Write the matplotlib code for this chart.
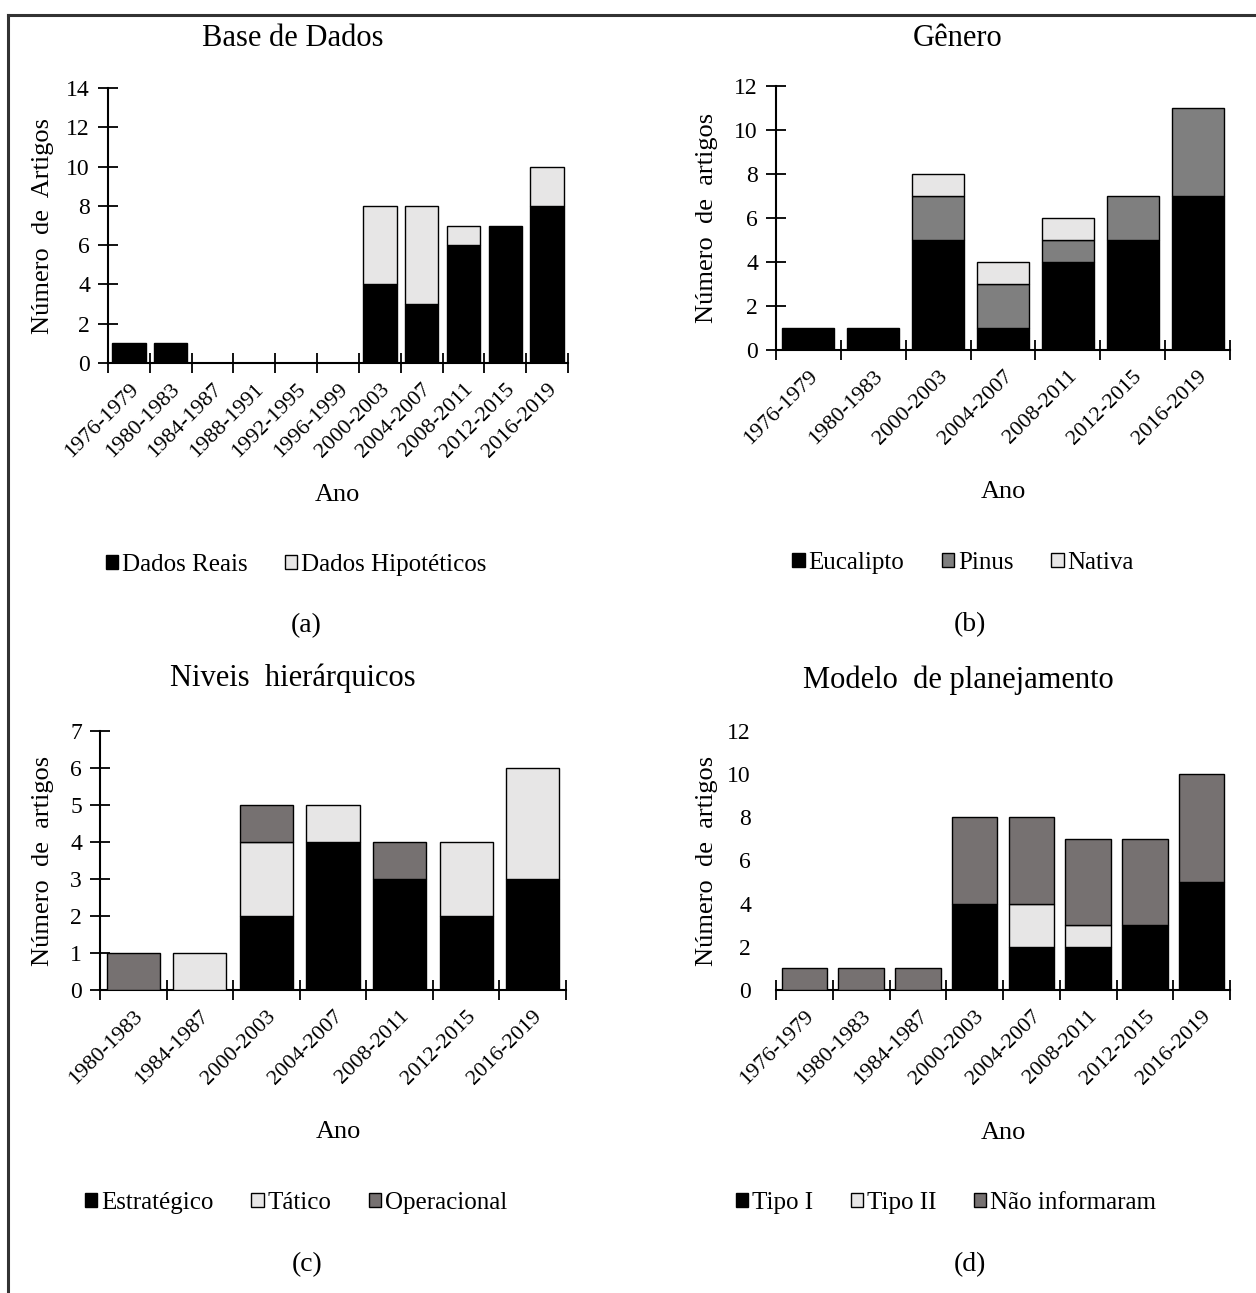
import matplotlib
matplotlib.use("Agg")
import matplotlib.pyplot as plt
import numpy as np
from matplotlib.lines import Line2D
from matplotlib.patches import Patch

plt.rcParams['font.family'] = ['Liberation Serif', 'DejaVu Serif']

# ---------------- data ----------------
cat_a = ["1976-1979", "1980-1983", "1984-1987", "1988-1991", "1992-1995", "1996-1999",
         "2000-2003", "2004-2007", "2008-2011", "2012-2015", "2016-2019"]
reais = [1, 1, 0, 0, 0, 0, 4, 3, 6, 7, 8]
hipoteticos = [0, 0, 0, 0, 0, 0, 4, 5, 1, 0, 2]

cat_b = ["1976-1979", "1980-1983", "2000-2003", "2004-2007", "2008-2011", "2012-2015", "2016-2019"]
eucalipto = [1, 1, 5, 1, 4, 5, 7]
pinus = [0, 0, 2, 2, 1, 2, 4]
nativa = [0, 0, 1, 1, 1, 0, 0]

cat_c = ["1980-1983", "1984-1987", "2000-2003", "2004-2007", "2008-2011", "2012-2015", "2016-2019"]
estrategico = [0, 0, 2, 4, 3, 2, 3]
tatico = [0, 1, 2, 1, 0, 2, 3]
operacional = [1, 0, 1, 0, 1, 0, 0]

cat_d = ["1976-1979", "1980-1983", "1984-1987", "2000-2003", "2004-2007", "2008-2011",
         "2012-2015", "2016-2019"]
tipo1 = [0, 0, 0, 4, 2, 2, 3, 5]
tipo2 = [0, 0, 0, 0, 2, 1, 0, 0]
nao_inf = [1, 1, 1, 4, 4, 4, 4, 5]

BLACK = "#000000"
LIGHT = "#E7E6E6"
GRAY_B = "#7F7F7F"
GRAY_CD = "#767171"

W, H = 1256, 1293
fig = plt.figure(figsize=(W / 100, H / 100), dpi=100)


def fx(x):
    return x / W


def fy(y):
    return 1 - y / H


def make_axes(l, r, t, b):
    return fig.add_axes([fx(l), fy(b), fx(r) - fx(l), fy(t) - fy(b)])


def draw_panel(ax, cats, series, ymax, ystep, hide_yaxis=False):
    x = np.arange(len(cats))
    bottom = np.zeros(len(cats))
    for vals, color in series:
        vals = np.array(vals, dtype=float)
        mask = vals > 0
        ax.bar(x[mask], vals[mask], bottom=bottom[mask], width=0.8, color=color,
               edgecolor="black", linewidth=1.0, zorder=3)
        bottom += vals
    ax.set_xlim(-0.5, len(cats) - 0.5)
    ax.set_ylim(0, ymax)
    ax.set_yticks(np.arange(0, ymax + 0.01, ystep))
    ax.set_xticks(np.arange(len(cats) + 1) - 0.5)
    ax.set_xticklabels([])
    ax.set_xticks(x, minor=True)
    ax.set_xticklabels(cats, minor=True, rotation=45, ha="right",
                       rotation_mode="anchor", fontsize=16)
    ax.tick_params(axis="x", which="minor", length=0, pad=12)
    ax.tick_params(axis="x", which="major", direction="inout", length=14, width=1.3)
    for s in ["top", "right"]:
        ax.spines[s].set_visible(False)
    ax.spines["bottom"].set_linewidth(1.5)
    ax.spines["left"].set_linewidth(1.5)
    ax.set_facecolor("none")
    if hide_yaxis:
        ax.spines["left"].set_visible(False)
        ax.tick_params(axis="y", length=0, pad=18, labelsize=17)
    else:
        ax.tick_params(axis="y", direction="inout", length=14, width=1.3, pad=6, labelsize=17)


def legend_at(handles, labels, cx, cy):
    fig.legend(handles, labels, loc="center", bbox_to_anchor=(fx(cx), fy(cy)),
               ncol=len(labels), frameon=False, fontsize=18, handlelength=0.5,
               handleheight=0.5, handletextpad=0.15, columnspacing=1.5,
               borderaxespad=0)


def sq(color):
    return Patch(facecolor=color, edgecolor="black", linewidth=1.0)


# ---- (a)
ax = make_axes(108, 568, 88, 363)
draw_panel(ax, cat_a, [(reais, BLACK), (hipoteticos, LIGHT)], 14, 2)
ax.set_ylabel("Número  de  Artigos", fontsize=19)
ax.yaxis.set_label_coords(-(108 - 54) / 460, 0.5)
fig.text(fx(293), fy(38), "Base de Dados", ha="center", va="center", fontsize=22)
fig.text(fx(337), fy(495), "Ano", ha="center", va="center", fontsize=19)
legend_at([sq(BLACK), sq(LIGHT)], ["Dados Reais", "Dados Hipotéticos"], 296, 565)
fig.text(fx(306), fy(626), "(a)", ha="center", va="center", fontsize=20)

# ---- (b)
ax = make_axes(776, 1230, 86, 350)
draw_panel(ax, cat_b, [(eucalipto, BLACK), (pinus, GRAY_B), (nativa, LIGHT)], 12, 2)
ax.set_ylabel("Número  de  artigos", fontsize=19)
ax.yaxis.set_label_coords(-(776 - 718) / 454, 0.5)
fig.text(fx(958), fy(38), "Gênero", ha="center", va="center", fontsize=22)
fig.text(fx(1003), fy(492), "Ano", ha="center", va="center", fontsize=19)
legend_at([sq(BLACK), sq(GRAY_B), sq(LIGHT)], ["Eucalipto", "Pinus", "Nativa"], 963, 563)
fig.text(fx(970), fy(625), "(b)", ha="center", va="center", fontsize=20)

# ---- (c)
ax = make_axes(100, 566, 731, 990)
draw_panel(ax, cat_c, [(estrategico, BLACK), (tatico, LIGHT), (operacional, GRAY_CD)], 7, 1)
ax.set_ylabel("Número  de  artigos", fontsize=19)
ax.yaxis.set_label_coords(-(100 - 54) / 466, 0.5)
fig.text(fx(293), fy(678), "Niveis  hierárquicos", ha="center", va="center", fontsize=22)
fig.text(fx(338), fy(1132), "Ano", ha="center", va="center", fontsize=19)
legend_at([sq(BLACK), sq(LIGHT), sq(GRAY_CD)], ["Estratégico", "Tático", "Operacional"], 296, 1203)
fig.text(fx(307), fy(1265), "(c)", ha="center", va="center", fontsize=20)

# ---- (d)
ax = make_axes(776, 1230, 731, 990)
draw_panel(ax, cat_d, [(tipo1, BLACK), (tipo2, LIGHT), (nao_inf, GRAY_CD)], 12, 2, hide_yaxis=True)
ax.set_ylabel("Número  de  artigos", fontsize=19)
ax.yaxis.set_label_coords(-(776 - 718) / 454, 0.5)
fig.text(fx(958), fy(680), "Modelo  de planejamento", ha="center", va="center", fontsize=22)
fig.text(fx(1003), fy(1133), "Ano", ha="center", va="center", fontsize=19)
legend_at([sq(BLACK), sq(LIGHT), sq(GRAY_CD)], ["Tipo I", "Tipo II", "Não informaram"], 946, 1203)
fig.text(fx(970), fy(1265), "(d)", ha="center", va="center", fontsize=20)

# outer frame (left and top)
fig.add_artist(Line2D([fx(8), fx(8)], [0, fy(15)], color="#333333", linewidth=2.2))
fig.add_artist(Line2D([fx(8), 1], [fy(15), fy(15)], color="#333333", linewidth=2.2))

fig.savefig("out.png", dpi=100)
